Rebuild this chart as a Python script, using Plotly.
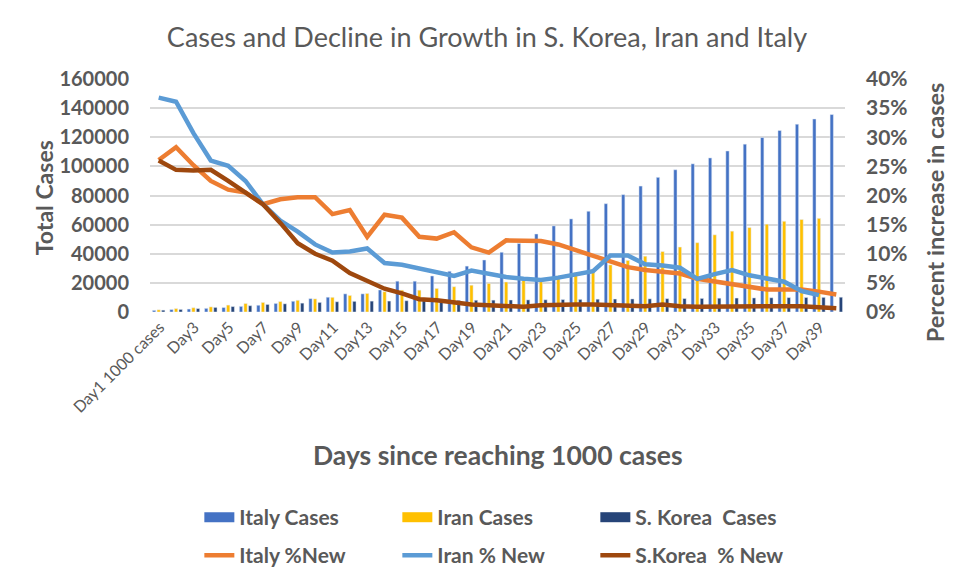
import plotly.graph_objects as go

days = ["Day1 1000 cases"] + [f"Day{i}" for i in range(2, 41)]
tick_days = [days[i] for i in range(0, 40, 2)]

italy_cases = [1128, 1694, 2036, 2502, 3089, 3858, 4636, 5883, 7375, 9172,
               10149, 12462, 12462, 15113, 21157, 21157, 24747, 27980, 31506, 35713,
               41035, 47021, 53578, 59138, 63927, 69176, 74386, 80589, 86498, 92472,
               97689, 101739, 105792, 110574, 115242, 119827, 124632, 128948, 132547, 135586]
iran_cases = [1501, 2336, 2922, 3513, 4747, 5823, 6566, 7161, 8042, 9000,
              10075, 11364, 12729, 13938, 14991, 14991, 16169, 17361, 18407, 19644,
              20610, 21638, 23049, 24811, 27017, 29406, 32332, 35408, 38309, 41495,
              44605, 47593, 53000, 55500, 58000, 60300, 62300, 63500, 64300]
korea_cases = [1261, 1766, 2337, 3150, 3736, 4335, 5186, 5621, 6088, 6593,
               7041, 7314, 7478, 7513, 7755, 7755, 7869, 7979, 8086, 8162,
               8236, 8320, 8413, 8565, 8652, 8799, 8897, 8961, 9037, 9137,
               9241, 9332, 9478, 9583, 9661, 9786, 9887, 9976, 10062, 10156]

italy_pct = [26.1, 28.3, 25.2, 22.5, 21.0, 20.5, 18.5, 19.35, 19.7, 19.7,
             16.8, 17.5, 12.9, 16.7, 16.2, 12.9, 12.6, 13.7, 11.1, 10.2,
             12.3, 12.2, 12.2, 11.6, 10.6, 9.6, 8.6, 7.7, 7.2, 6.9,
             6.6, 5.7, 5.2, 4.7, 4.2, 3.85, 3.85, 3.85, 3.5, 3.0]
iran_pct = [36.8, 36.1, 30.7, 26.0, 25.1, 22.5, 18.5, 15.7, 13.8, 11.6,
            10.2, 10.4, 10.9, 8.4, 8.1, 7.5, 6.9, 6.2, 7.1, 6.6,
            6.0, 5.7, 5.5, 5.9, 6.4, 7.0, 9.7, 9.7, 8.2, 8.0,
            7.6, 5.7, 6.5, 7.2, 6.3, 5.7, 5.2, 3.6, 2.9]
korea_pct = [26.0, 24.4, 24.3, 24.4, 22.5, 20.5, 18.5, 15.3, 11.8, 10.0,
             8.8, 6.7, 5.4, 4.0, 3.2, 2.2, 2.0, 1.6, 1.3, 1.15,
             1.0, 0.9, 1.15, 1.3, 1.3, 1.3, 1.15, 1.0, 1.0, 1.3,
             1.0, 0.9, 0.95, 1.0, 1.05, 1.05, 1.0, 1.0, 0.9, 0.65]

left_ticks = [0, 20000, 40000, 60000, 80000, 100000, 120000, 140000, 160000]
right_ticks = [0, 5, 10, 15, 20, 25, 30, 35, 40]

GREY = "#595959"
FONT = "Lato"
C_IT, C_IR, C_KR = "#4472C4", "#FFC000", "#264478"

fig = go.Figure()
fig.add_bar(x=days, y=italy_cases, name="Italy Cases", marker_color=C_IT, showlegend=False)
fig.add_bar(x=days[:39], y=iran_cases, name="Iran Cases", marker_color=C_IR, showlegend=False)
fig.add_bar(x=days, y=korea_cases, name="S. Korea\u00a0 Cases", marker_color=C_KR, showlegend=False)

# legend-only swatches for the bar series (wide rectangles like the original)
for nm, col in [("Italy Cases", C_IT), ("Iran Cases", C_IR), ("S. Korea\u00a0 Cases", C_KR)]:
    fig.add_scatter(x=[None], y=[None], name=nm, mode="lines",
                    line=dict(color=col, width=11), legend="legend")

fig.add_scatter(x=days, y=italy_pct, name="Italy %New", mode="lines", yaxis="y2",
                line=dict(color="#ED7D31", width=4.5), legend="legend2")
fig.add_scatter(x=days[:39], y=iran_pct, name="Iran % New", mode="lines", yaxis="y2",
                line=dict(color="#5B9BD5", width=4.5), legend="legend2")
fig.add_scatter(x=days, y=korea_pct, name="S.Korea\u00a0 % New", mode="lines", yaxis="y2",
                line=dict(color="#9E480E", width=4.5), legend="legend2")

legend_common = dict(orientation="h", xanchor="left", yanchor="middle",
                     font=dict(family=FONT, size=21, color=GREY, weight="bold"),
                     entrywidth=153, entrywidthmode="pixels", traceorder="normal",
                     bgcolor="rgba(0,0,0,0)")

fig.update_layout(
    width=974, height=587,
    margin=dict(l=150, r=129, t=79, b=275, autoexpand=False),
    paper_bgcolor="white", plot_bgcolor="white",
    barmode="group", bargap=0.21, bargroupgap=0.28,
    title=dict(text="Cases and Decline in Growth in S. Korea, Iran and Italy",
               x=0.5, xanchor="center", y=1 - 38 / 587, yanchor="middle",
               font=dict(family=FONT, size=27, color=GREY)),
    xaxis=dict(type="category", categoryorder="array", categoryarray=days,
               tickmode="array", tickvals=tick_days, ticktext=tick_days,
               tickangle=-45, tickfont=dict(family=FONT, size=16, color=GREY),
               showgrid=False, showline=False, ticks="", ticklabelstandoff=2,
               ticklabelshift=1, automargin=False),
    yaxis=dict(range=[0, 160000], tickvals=left_ticks, ticktext=[str(v) for v in left_ticks],
               showgrid=True, gridcolor="#D9D9D9", gridwidth=1.8,
               tickfont=dict(family=FONT, size=20, color=GREY, weight="bold"),
               zeroline=False, showline=False, ticks="", ticklabelstandoff=20,
               automargin=False),
    yaxis2=dict(range=[0, 40], tickvals=right_ticks, ticktext=[f"{v}%" for v in right_ticks],
                overlaying="y", side="right", showgrid=False, zeroline=False,
                tickfont=dict(family=FONT, size=21, color=GREY, weight="bold"),
                showline=False, ticks="", ticklabelstandoff=20, automargin=False),
    legend=dict(x=0.071, y=(311.7 - 517) / 232.7, **legend_common),
    legend2=dict(x=0.071, y=(311.7 - 555) / 232.7, **legend_common),
    annotations=[
        dict(text="<b>Days since reaching 1000 cases</b>", xref="paper", yref="paper",
             x=0.5, y=(311.7 - 455) / 232.7, xanchor="center", yanchor="middle",
             showarrow=False, font=dict(family=FONT, size=26.5, color=GREY)),
        dict(text="<b>Total Cases</b>", xref="paper", yref="paper", textangle=-90,
             x=(44 - 150) / 695, y=(311.7 - 198) / 232.7, xanchor="center", yanchor="middle",
             showarrow=False, font=dict(family=FONT, size=23, color=GREY)),
        dict(text="<b>Percent increase in cases</b>", xref="paper", yref="paper", textangle=-90,
             x=(935 - 150) / 695, y=(311.7 - 212) / 232.7, xanchor="center", yanchor="middle",
             showarrow=False, font=dict(family=FONT, size=23.5, color=GREY)),
    ],
)

fig.write_html("out.html", config={"displayModeBar": False},
               post_script="document.body.style.margin='0';")
